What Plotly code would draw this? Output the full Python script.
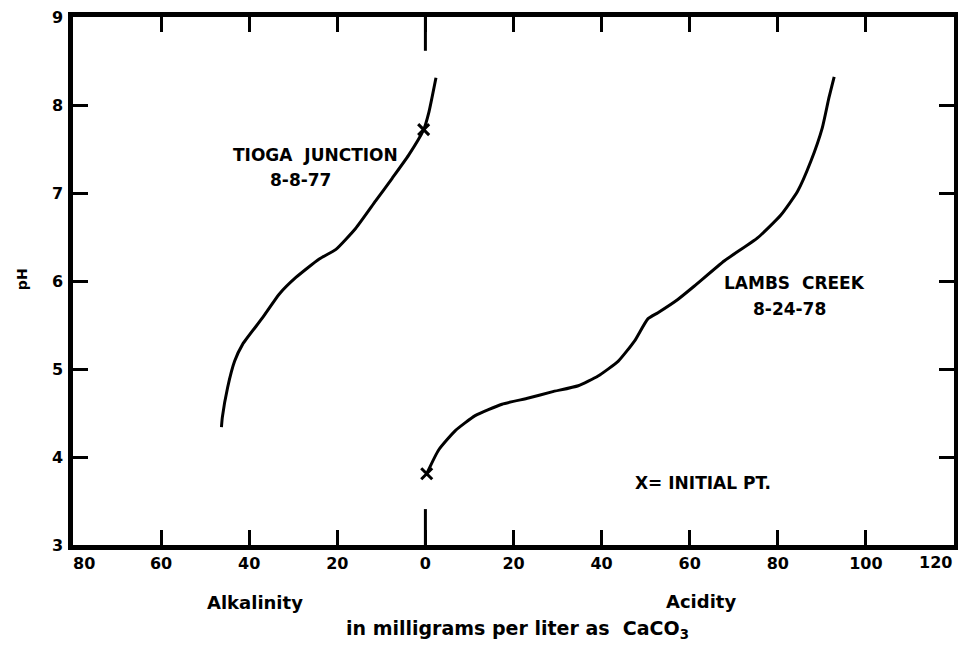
import plotly.graph_objects as go

# Tioga Junction 8-8-77 (alkalinity side, mg/L as CaCO3; plotted leftward from 0)
tioga_alk = [46.3, 46.1, 44.9, 43.3, 41.5, 37.0, 33.2, 29.4, 24.1, 20.3, 15.8, 11.3, 7.5, 3.8, 0.4, -0.8, -2.4]
tioga_ph = [4.34, 4.45, 4.79, 5.09, 5.28, 5.58, 5.85, 6.04, 6.25, 6.36, 6.60, 6.91, 7.17, 7.43, 7.72, 7.92, 8.31]

# Lambs Creek 8-24-78 (acidity side)
lambs_acid = [0.3, 3.0, 6.8, 11.3, 17.4, 23.4, 28.7, 34.7, 39.2, 43.8, 47.5, 50.5, 52.8, 57.3, 61.0,
              67.9, 75.4, 80.7, 84.5, 87.5, 90.1, 91.6, 92.8]
lambs_ph = [3.81, 4.08, 4.30, 4.47, 4.60, 4.67, 4.74, 4.81, 4.92, 5.09, 5.32, 5.57, 5.64, 5.79, 5.94,
            6.23, 6.49, 6.75, 7.02, 7.36, 7.74, 8.08, 8.32]

# initial points (signed position: negative = alkalinity side)
initial_x = [-0.4, 0.3]
initial_ph = [7.72, 3.81]

NB = "\u00a0"
tick_vals = [-80, -60, -40, -20, 0, 20, 40, 60, 80, 100, 120]
tick_text = [NB * 4 + "80", "60", "40", "20", "0", "20", "40", "60", "80", "100", "120"]
y_ticks = [3, 4, 5, 6, 7, 8, 9]

FONT = "DejaVu Sans"

fig = go.Figure()
fig.add_trace(go.Scatter(x=[-v for v in tioga_alk], y=tioga_ph, mode="lines",
                         line=dict(color="black", width=3, shape="spline", smoothing=0.5),
                         showlegend=False))
fig.add_trace(go.Scatter(x=lambs_acid, y=lambs_ph, mode="lines",
                         line=dict(color="black", width=3, shape="spline", smoothing=0.5),
                         showlegend=False))
fig.add_trace(go.Scatter(x=initial_x, y=initial_ph, mode="markers",
                         marker=dict(symbol="x-thin-open", size=11, color="black",
                                     line=dict(color="black", width=3)),
                         showlegend=False))

# longer ticks at zero on top and bottom
for y0, y1 in [(0, 0.068), (0.936, 1)]:
    fig.add_shape(type="line", xref="x", yref="paper", x0=0, x1=0, y0=y0, y1=y1,
                  line=dict(color="black", width=3))

tickfont = dict(family=FONT, size=16, color="black", weight="bold")
# last x label drawn as right-aligned annotation so it stays inside the page
fig.update_xaxes(range=[-80, 120], tickvals=tick_vals, ticktext=tick_text[:-1] + [""],
                 ticks="inside", ticklen=15, tickwidth=3, tickcolor="black",
                 showline=True, linewidth=4.5, linecolor="black", mirror="ticks",
                 showgrid=False, zeroline=False, ticklabeloverflow="allow",
                 automargin=False, tickfont=tickfont)
fig.add_annotation(x=tick_vals[-1], y=-0.034, yref="paper", xanchor="right", yanchor="middle",
                   text=tick_text[-1], showarrow=False, font=tickfont)
fig.update_yaxes(range=[3, 9], tickvals=y_ticks,
                 ticks="inside", ticklen=15, tickwidth=3, tickcolor="black",
                 showline=True, linewidth=4.5, linecolor="black", mirror="ticks",
                 showgrid=False, zeroline=False, ticklabelstandoff=2,
                 ticklabeloverflow="allow", automargin=False, tickfont=tickfont)

ann_font = dict(family=FONT, size=17, color="black", weight="bold")
anns = [
    dict(x=-24.9, y=7.43, text="TIOGA  JUNCTION"),
    dict(x=-28.4, y=7.15, text="8-8-77"),
    dict(x=83.9, y=5.98, text="LAMBS  CREEK"),
    dict(x=82.7, y=5.68, text="8-24-78"),
    dict(x=63.0, y=3.71, text="X= INITIAL PT."),
]
for a in anns:
    fig.add_annotation(x=a["x"], y=a["y"], text=a["text"], showarrow=False, font=ann_font)

lab_font = dict(family=FONT, size=18, color="black", weight="bold")
fig.add_annotation(x=-38.6, y=-0.109, yref="paper", yanchor="middle", text="Alkalinity",
                   showarrow=False, font=lab_font)
fig.add_annotation(x=62.5, y=-0.107, yref="paper", yanchor="middle", text="Acidity",
                   showarrow=False, font=lab_font)
fig.add_annotation(x=20.9, y=-0.16, yref="paper", yanchor="middle",
                   text="in milligrams per liter as  CaCO<sub>3</sub>",
                   showarrow=False, font=dict(family=FONT, size=19, color="black", weight="bold"))
fig.add_annotation(x=-0.058, xref="paper", xanchor="center", y=6.02, text="pH", textangle=-90,
                   showarrow=False, font=dict(family=FONT, size=14, color="black", weight="bold"))

fig.update_layout(width=950, height=636, margin=dict(l=65, r=4, t=9, b=99),
                  plot_bgcolor="white", paper_bgcolor="white")

fig.write_html("out.html")
